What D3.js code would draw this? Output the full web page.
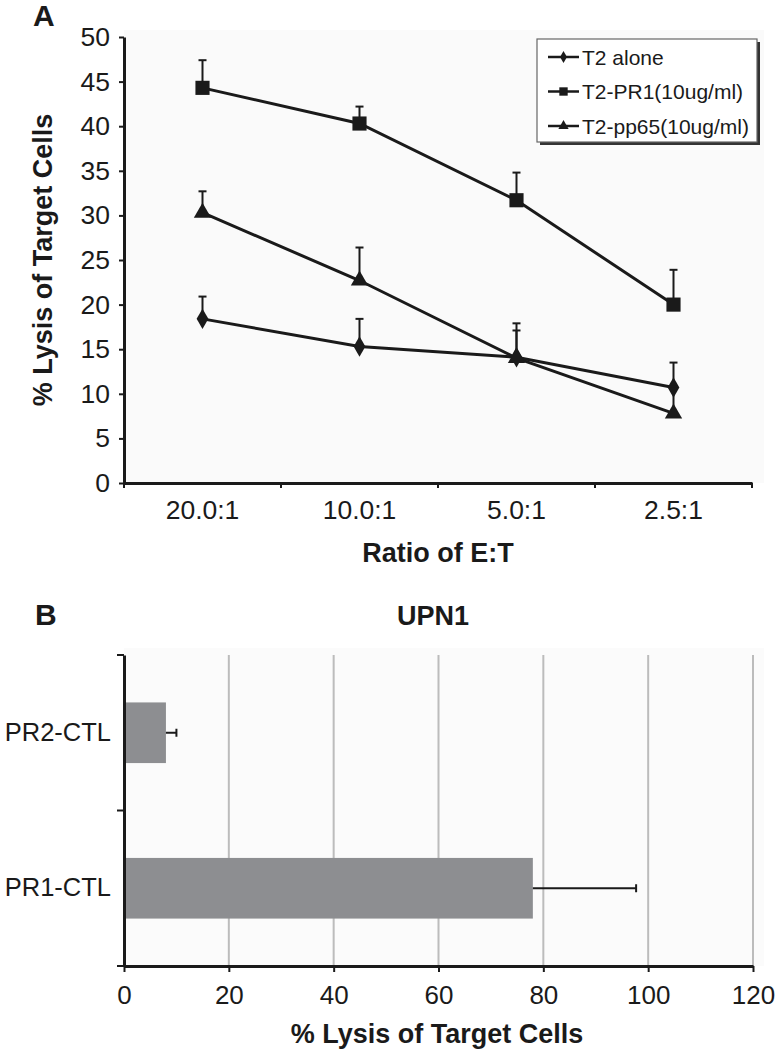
<!DOCTYPE html>
<html>
<head>
<meta charset="utf-8">
<script src="https://cdn.jsdelivr.net/npm/d3@7"></script>
<style>
  html, body { margin: 0; padding: 0; background: #ffffff; }
  svg { display: block; font-family: "Liberation Sans", Arial, Helvetica, sans-serif; }
</style>
</head>
<body>
<svg id="chart" width="775" height="1050"></svg>
<script>
// ---------- Data: panel A ----------
const ratios = ["20.0:1", "10.0:1", "5.0:1", "2.5:1"];
const seriesNames = ["T2 alone", "T2-PR1(10ug/ml)", "T2-pp65(10ug/ml)"];
const t2Alone    = [18.4, 15.3, 14.1, 10.7];
const t2AloneErr = [2.5, 3.1, 3.0, 2.8];
const t2PR1      = [44.3, 40.3, 31.7, 20.0];
const t2PR1Err   = [3.1, 1.9, 3.1, 3.9];
const t2pp65     = [30.3, 22.7, 14.0, 7.8];
const t2pp65Err  = [2.4, 3.7, 3.9, 3.0];
const yTicksA    = [0, 5, 10, 15, 20, 25, 30, 35, 40, 45, 50];

// ---------- Data: panel B ----------
const ctlNames  = ["PR2-CTL", "PR1-CTL"];
const ctlLysis  = [8, 78];
const ctlErr    = [2, 19.7];
const xTicksB   = [0, 20, 40, 60, 80, 100, 120];

const ink = "#1a1a1a";
const svg = d3.select("#chart");

// ================= PANEL A =================
const A = { left: 124, right: 752, top: 37, bottom: 483 };
const xA = d3.scaleBand().domain(ratios).range([A.left, A.right]).padding(0);
const yA = d3.scaleLinear().domain([0, 50]).range([A.bottom, A.top]);

svg.append("rect").attr("x", A.left).attr("y", 30).attr("width", 640).attr("height", A.bottom - 30)
  .attr("fill", "#fafafa");

svg.append("text").attr("x", 33).attr("y", 26).attr("font-size", 30).attr("font-weight", "bold")
  .attr("fill", ink).text("A");

// y axis
const gyA = svg.append("g").attr("transform", `translate(${A.left},0)`)
  .call(d3.axisLeft(yA).tickValues(yTicksA).tickSize(5).tickSizeOuter(0).tickPadding(9));
gyA.select(".domain").attr("stroke", ink).attr("stroke-width", 3);
gyA.selectAll(".tick line").attr("stroke", ink).attr("stroke-width", 2);
gyA.selectAll(".tick text").attr("font-size", 26.5).attr("fill", ink).attr("font-family", null);

// x axis
const gxA = svg.append("g").attr("transform", `translate(0,${A.bottom})`)
  .call(d3.axisBottom(xA).tickSize(0).tickSizeOuter(0).tickPadding(17));
gxA.select(".domain").attr("stroke", ink).attr("stroke-width", 3);
gxA.selectAll(".tick text").attr("font-size", 26.5).attr("fill", ink).attr("font-family", null);
// boundary ticks
const boundsA = ratios.map(r => xA(r)).concat([xA(ratios[ratios.length - 1]) + xA.bandwidth()]);
svg.append("g").selectAll("line").data(boundsA).join("line")
  .attr("x1", d => d).attr("x2", d => d).attr("y1", A.bottom).attr("y2", A.bottom + 5)
  .attr("stroke", ink).attr("stroke-width", 2);

svg.append("text").attr("x", (A.left + A.right) / 2).attr("y", 562).attr("text-anchor", "middle")
  .attr("font-size", 27).attr("font-weight", "bold").attr("fill", ink).text("Ratio of E:T");

svg.append("text").attr("transform", `translate(52,${(A.top + A.bottom) / 2}) rotate(-90)`)
  .attr("text-anchor", "middle").attr("font-size", 27).attr("font-weight", "bold").attr("fill", ink)
  .text("% Lysis of Target Cells");

const seriesA = [
  { name: seriesNames[0], vals: t2Alone, errs: t2AloneErr, sym: d3.symbolDiamond, size: 120 },
  { name: seriesNames[1], vals: t2PR1,   errs: t2PR1Err,   sym: d3.symbolSquare,  size: 200 },
  { name: seriesNames[2], vals: t2pp65,  errs: t2pp65Err,  sym: d3.symbolTriangle, size: 130 }
];

const cx = r => xA(r) + xA.bandwidth() / 2;
const line = d3.line().x(d => cx(d.r)).y(d => yA(d.v));

seriesA.forEach(s => {
  const pts = ratios.map((r, i) => ({ r, v: s.vals[i], e: s.errs[i] }));
  const g = svg.append("g");
  // error bars (upward)
  g.selectAll(".eb").data(pts).join("line")
    .attr("x1", d => cx(d.r)).attr("x2", d => cx(d.r))
    .attr("y1", d => yA(d.v)).attr("y2", d => yA(d.v + d.e))
    .attr("stroke", ink).attr("stroke-width", 2);
  g.selectAll(".cap").data(pts).join("line")
    .attr("x1", d => cx(d.r) - 4).attr("x2", d => cx(d.r) + 4)
    .attr("y1", d => yA(d.v + d.e)).attr("y2", d => yA(d.v + d.e))
    .attr("stroke", ink).attr("stroke-width", 2);
  g.append("path").datum(pts).attr("d", line).attr("fill", "none")
    .attr("stroke", ink).attr("stroke-width", 3);
  g.selectAll(".m").data(pts).join("path")
    .attr("transform", d => `translate(${cx(d.r)},${yA(d.v)})`)
    .attr("d", d3.symbol().type(s.sym).size(s.size)).attr("fill", ink);
});

// legend
const L = { x: 537, y: 39, w: 220, h: 103 };
svg.append("rect").attr("x", L.x + 3).attr("y", L.y + 3).attr("width", L.w).attr("height", L.h)
  .attr("fill", "#333");
svg.append("rect").attr("x", L.x).attr("y", L.y).attr("width", L.w).attr("height", L.h)
  .attr("fill", "#ffffff").attr("stroke", "#666").attr("stroke-width", 1.2);
seriesA.forEach((s, i) => {
  const yy = 57 + i * 34.5;
  svg.append("line").attr("x1", 548).attr("x2", 579).attr("y1", yy).attr("y2", yy)
    .attr("stroke", ink).attr("stroke-width", 2.5);
  svg.append("path").attr("transform", `translate(563.5,${yy})`)
    .attr("d", d3.symbol().type(s.sym).size(s.size * 0.35)).attr("fill", ink);
  svg.append("text").attr("x", 582).attr("y", yy + 7.5).attr("font-size", 21).attr("fill", ink)
    .text(s.name);
});

// ================= PANEL B =================
const B = { left: 124, right: 753, top: 655, bottom: 966 };
const xB = d3.scaleLinear().domain([0, 120]).range([B.left, B.right]);
const yB = d3.scaleBand().domain(ctlNames).range([B.top, B.bottom]).padding(0);

svg.append("rect").attr("x", B.left).attr("y", 648).attr("width", 640).attr("height", B.bottom - 648)
  .attr("fill", "#fbfbfb");

svg.append("text").attr("x", 35).attr("y", 625).attr("font-size", 30).attr("font-weight", "bold")
  .attr("fill", ink).text("B");
svg.append("text").attr("x", 433).attr("y", 625).attr("text-anchor", "middle").attr("font-size", 27)
  .attr("font-weight", "bold").attr("fill", ink).text("UPN1");

// gridlines
svg.append("g").selectAll("line").data(xTicksB.filter(d => d > 0)).join("line")
  .attr("x1", d => xB(d)).attr("x2", d => xB(d)).attr("y1", B.top).attr("y2", B.bottom)
  .attr("stroke", "#bcbcbc").attr("stroke-width", 2);

// bars
const barH = yB.bandwidth() * 0.39;
const by = n => yB(n) + yB.bandwidth() / 2;
const dataB = ctlNames.map((n, i) => ({ n, v: ctlLysis[i], e: ctlErr[i] }));
svg.append("g").selectAll("rect").data(dataB).join("rect")
  .attr("x", xB(0)).attr("y", d => by(d.n) - barH / 2)
  .attr("width", d => xB(d.v) - xB(0)).attr("height", barH)
  .attr("fill", "#8d8e91");
svg.append("g").selectAll("line").data(dataB).join("line")
  .attr("x1", d => xB(d.v)).attr("x2", d => xB(d.v + d.e))
  .attr("y1", d => by(d.n)).attr("y2", d => by(d.n))
  .attr("stroke", ink).attr("stroke-width", 2);
svg.append("g").selectAll("line").data(dataB).join("line")
  .attr("x1", d => xB(d.v + d.e)).attr("x2", d => xB(d.v + d.e))
  .attr("y1", d => by(d.n) - 4).attr("y2", d => by(d.n) + 4)
  .attr("stroke", ink).attr("stroke-width", 2);

// x axis
const gxB = svg.append("g").attr("transform", `translate(0,${B.bottom})`)
  .call(d3.axisBottom(xB).tickValues(xTicksB).tickSize(6).tickSizeOuter(0).tickPadding(14));
gxB.select(".domain").attr("stroke", ink).attr("stroke-width", 3);
gxB.selectAll(".tick line").attr("stroke", ink).attr("stroke-width", 2);
gxB.selectAll(".tick text").attr("font-size", 26).attr("fill", ink).attr("font-family", null);

// y axis
const gyB = svg.append("g").attr("transform", `translate(${B.left},0)`)
  .call(d3.axisLeft(yB).tickSize(0).tickSizeOuter(0).tickPadding(13));
gyB.select(".domain").attr("stroke", ink).attr("stroke-width", 3);
gyB.selectAll(".tick text").attr("font-size", 25.5).attr("fill", ink).attr("font-family", null);
const boundsB = ctlNames.map(n => yB(n)).concat([yB(ctlNames[ctlNames.length - 1]) + yB.bandwidth()]);
svg.append("g").selectAll("line").data(boundsB).join("line")
  .attr("x1", B.left - 7).attr("x2", B.left).attr("y1", d => d).attr("y2", d => d)
  .attr("stroke", ink).attr("stroke-width", 2);

svg.append("text").attr("x", 437).attr("y", 1043).attr("text-anchor", "middle")
  .attr("font-size", 27).attr("font-weight", "bold").attr("fill", ink).text("% Lysis of Target Cells");
</script>
</body>
</html>
